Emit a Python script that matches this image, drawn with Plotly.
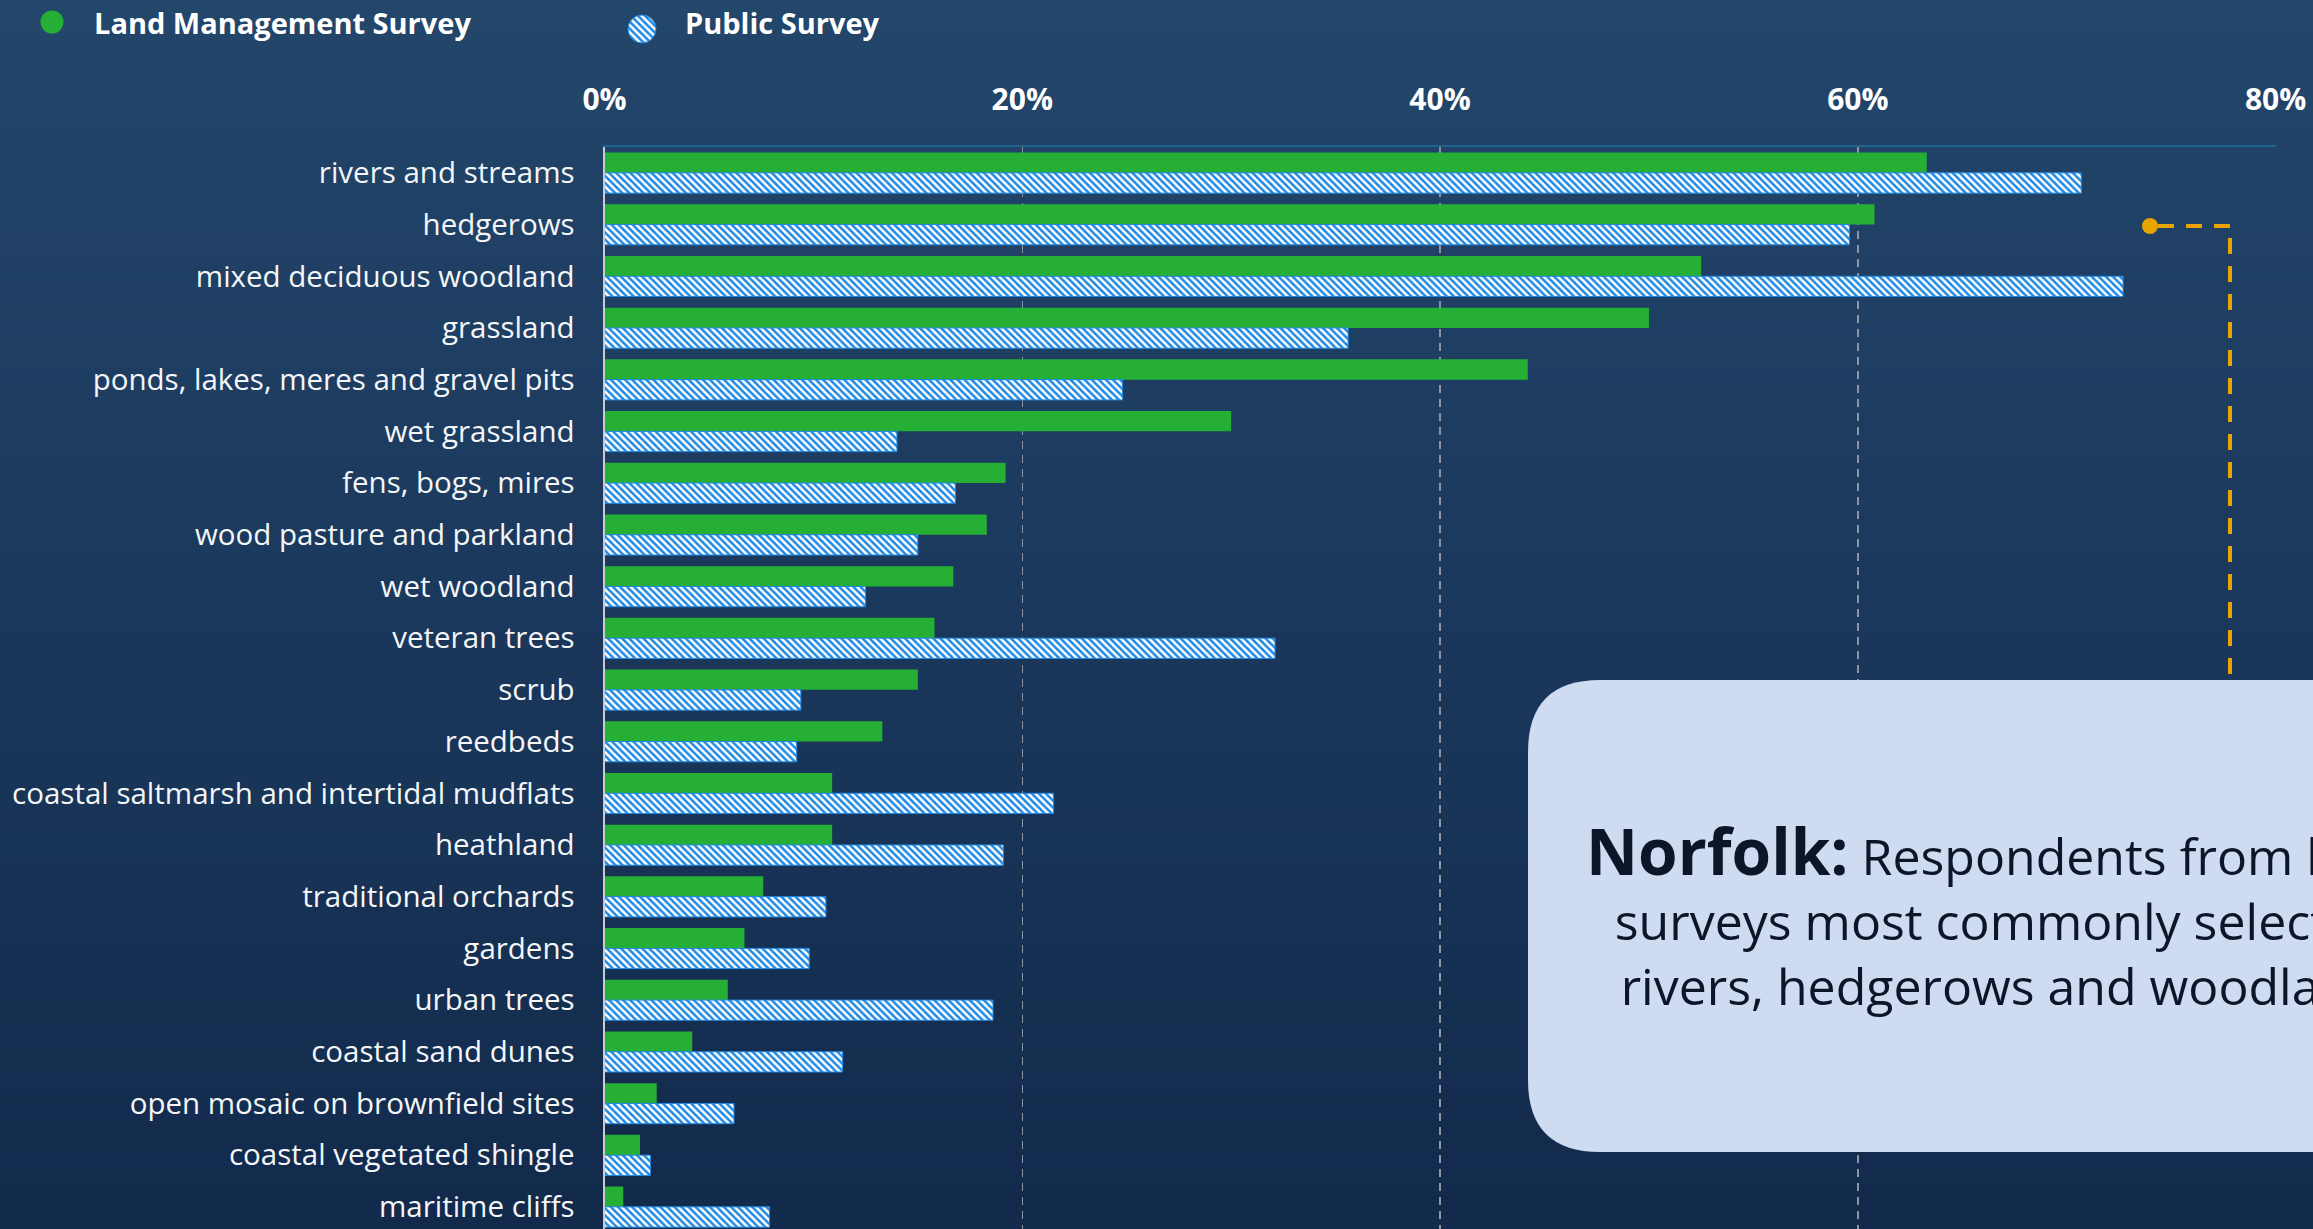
import plotly.graph_objects as go

# ---------------- data ----------------
categories = [
    "rivers and streams", "hedgerows", "mixed deciduous woodland", "grassland",
    "ponds, lakes, meres and gravel pits", "wet grassland", "fens, bogs, mires",
    "wood pasture and parkland", "wet woodland", "veteran trees", "scrub",
    "reedbeds", "coastal saltmarsh and intertidal mudflats", "heathland",
    "traditional orchards", "gardens", "urban trees", "coastal sand dunes",
    "open mosaic on brownfield sites", "coastal vegetated shingle", "maritime cliffs",
]
land_management = [63.3, 60.8, 52.5, 50.0, 44.2, 30.0, 19.2, 18.3, 16.7, 15.8, 15.0,
                   13.3, 10.9, 10.9, 7.6, 6.7, 5.9, 4.2, 2.5, 1.7, 0.9]
public_survey = [70.7, 59.6, 72.7, 35.6, 24.8, 14.0, 16.8, 15.0, 12.5, 32.1, 9.4,
                 9.2, 21.5, 19.1, 10.6, 9.8, 18.6, 11.4, 6.2, 2.2, 7.9]
tick_vals = [0, 20, 40, 60, 80]
tick_text = ["0%", "20%", "40%", "60%", "80%"]
series_names = ["Land Management Survey", "Public Survey"]
callout_title = "Norfolk:"
callout_lines = ["Respondents from both", "surveys most commonly selected",
                 "rivers, hedgerows and woodland"]

# ---------------- geometry helpers ----------------
W, H = 2313, 1229
def px(x):
    return x / W
def py(y):
    return 1 - y / H

FONT = "Open Sans"
GREEN = "#25b035"
BLUE = "#1e88e5"
ORANGE = "#e8a400"

plot_top = 147
row_pitch = 51.7
visible_rows = (H - plot_top) / row_pitch

fig = go.Figure()
fig.add_bar(
    y=categories, x=land_management, orientation="h", name=series_names[0],
    marker=dict(color=GREEN, line=dict(width=0)), showlegend=False,
)
fig.add_bar(
    y=categories, x=public_survey, orientation="h", name=series_names[1],
    marker=dict(color="white", line=dict(color=BLUE, width=1),
                pattern=dict(shape="\\", fgcolor=BLUE, bgcolor="white",
                             size=5, solidity=0.5, fillmode="replace")),
    showlegend=False,
)

# legend marker for the hatched series (pie allows a patterned circle)
fig.add_trace(go.Pie(
    values=[1], labels=[series_names[1]], sort=False, textinfo="none",
    hoverinfo="skip", showlegend=False,
    domain=dict(x=[px(628), px(656)], y=[py(43), py(15)]),
    marker=dict(colors=["white"], line=dict(color=BLUE, width=1),
                pattern=dict(shape="\\", fgcolor=BLUE, bgcolor="white",
                             size=5, solidity=0.5)),
))

shapes = []
# background vertical gradient
top_rgb = (0x23, 0x46, 0x6b)
bot_rgb = (0x12, 0x2a, 0x4c)
N = 80
for i in range(N):
    t = i / (N - 1)
    c = tuple(round(top_rgb[k] + (bot_rgb[k] - top_rgb[k]) * t) for k in range(3))
    shapes.append(dict(
        type="rect", xref="paper", yref="paper", x0=0, x1=1,
        y0=1 - (i + 1) / N - 0.002, y1=1 - i / N,
        fillcolor="rgb(%d,%d,%d)" % c, line=dict(width=0), layer="below",
    ))

# legend green circle
shapes.append(dict(type="circle", xref="paper", yref="paper",
                   x0=px(40.5), x1=px(63.5), y0=py(33.5), y1=py(10.5),
                   fillcolor=GREEN, line=dict(width=0)))

# callout box with rounded corners
bx0, bx1, bt, bb = 1528, 2560, 680, 1152
r = 72
rx, ry = r / W, r / H
path = (f"M {px(bx0)+rx},{py(bt)} L {px(bx1)},{py(bt)} L {px(bx1)},{py(bb)} "
        f"L {px(bx0)+rx},{py(bb)} Q {px(bx0)},{py(bb)} {px(bx0)},{py(bb)+ry} "
        f"L {px(bx0)},{py(bt)-ry} Q {px(bx0)},{py(bt)} {px(bx0)+rx},{py(bt)} Z")
shapes.append(dict(type="path", xref="paper", yref="paper", path=path,
                   fillcolor="#cfdbf1", line=dict(width=0), layer="above"))

# connector
shapes.append(dict(type="path", xref="paper", yref="paper",
                   path=f"M {px(2158)},{py(226)} L {px(2230)},{py(226)} L {px(2230)},{py(bt)}",
                   line=dict(color=ORANGE, width=4, dash="16px,12px")))
shapes.append(dict(type="circle", xref="paper", yref="paper",
                   x0=px(2142), x1=px(2158), y0=py(234), y1=py(218),
                   fillcolor=ORANGE, line=dict(width=0)))

annotations = [
    dict(text="<b>%s</b>" % series_names[0], xref="paper", yref="paper",
         x=px(92), y=py(23), xanchor="left", yanchor="middle", showarrow=False,
         font=dict(family=FONT, size=29, color="white")),
    dict(text="<b>%s</b>" % series_names[1], xref="paper", yref="paper",
         x=px(683), y=py(23), xanchor="left", yanchor="middle", showarrow=False,
         font=dict(family=FONT, size=29, color="white")),
    dict(text="<b><span style='font-size:64px'>%s</span></b> %s" % (callout_title, "<br>".join(callout_lines)),
         xref="paper", yref="paper", x=px(2000), y=py(913),
         xanchor="center", yanchor="middle", align="center", showarrow=False,
         font=dict(family=FONT, size=50, color="#0b1628")),
]

fig.update_layout(
    width=W, height=H,
    margin=dict(l=0, r=0, t=0, b=0, autoexpand=False),
    paper_bgcolor="#1b3a5e", plot_bgcolor="rgba(0,0,0,0)",
    barmode="group", bargap=0.215, bargroupgap=0,
    showlegend=False,
    shapes=shapes, annotations=annotations,
    xaxis=dict(
        domain=[px(604.5), px(2276)], range=[0, 80.02], side="top",
        tickvals=tick_vals, ticktext=tick_text, ticks="",
        tickfont=dict(family=FONT, size=30, color="white", weight="bold"),
        ticklabelstandoff=23,
        showgrid=True, gridcolor="#8c96a3", gridwidth=1.5, griddash="8px,6px",
        showline=True, linecolor="#1f6391", linewidth=2, zeroline=False,
        automargin=False, fixedrange=True,
    ),
    yaxis=dict(
        domain=[0, py(plot_top)], categoryorder="array", categoryarray=categories,
        range=[-0.5 + visible_rows, -0.5], ticks="",
        tickfont=dict(family=FONT, size=29.5, color="#f4f6f8"),
        ticklabelstandoff=22,
        showgrid=False, showline=True, linecolor="#c8ccd2", linewidth=2,
        zeroline=False, automargin=False, fixedrange=True,
    ),
)

fig.write_html(
    "out.html",
    config={"displayModeBar": False, "staticPlot": True},
    post_script="document.body.style.margin='0';document.body.style.padding='0';"
                "document.body.style.overflow='hidden';",
)
